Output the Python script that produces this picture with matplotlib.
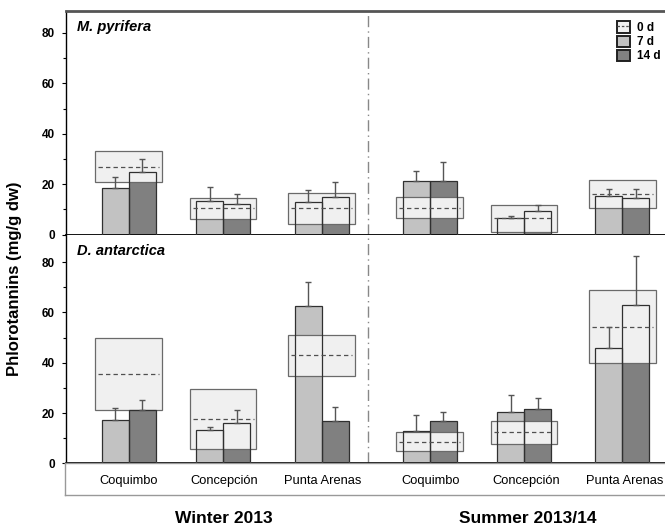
import matplotlib
matplotlib.use("Agg")
import matplotlib.pyplot as plt
from matplotlib.patches import Rectangle, Patch
from matplotlib.lines import Line2D
import numpy as np

plt.rcParams['font.family'] = ['Liberation Sans', 'DejaVu Sans']

sites = ["Coquimbo", "Concepción", "Punta Arenas", "Coquimbo", "Concepción", "Punta Arenas"]
seasons = ["Winter 2013", "Summer 2013/14"]
species = ["M. pyrifera", "D. antarctica"]

# M. pyrifera: 0 d shown as mean +/- sd box, 7 d and 14 d as bars + sd
mp_d0 = [26.9, 10.4, 10.4, 10.6, 6.4, 16.2]
mp_d0_sd = [6.1, 4.2, 6.2, 4.1, 5.4, 5.5]
mp_d7 = [18.3, 13.3, 12.8, 21.2, 6.4, 15.4]
mp_d7_sd = [4.4, 5.4, 4.9, 4.0, 0.9, 2.8]
mp_d14 = [24.8, 12.0, 15.0, 21.2, 9.3, 14.6]
mp_d14_sd = [5.0, 3.9, 5.8, 7.5, 2.4, 3.3]

# D. antarctica
da_d0 = [35.5, 17.6, 42.9, 8.6, 12.3, 54.4]
da_d0_sd = [14.3, 11.8, 8.0, 3.7, 4.6, 14.4]
da_d7 = [17.3, 13.1, 62.7, 12.9, 20.6, 45.7]
da_d7_sd = [4.9, 1.5, 9.4, 6.3, 6.6, 8.7]
da_d14 = [21.4, 15.9, 17.0, 16.9, 21.6, 62.9]
da_d14_sd = [3.8, 5.3, 5.3, 3.7, 4.3, 19.7]

xpos = np.array([0, 0.98, 2.0, 3.12, 4.1, 5.12])
bar_w = 0.28
box_w = 0.69
c7 = "#c2c2c2"
c14 = "#808080"
c0 = "#f0f0f0"
XLIM = (-0.65, 5.59)
SEP = 2.48

fig = plt.figure(figsize=(6.65, 5.3), dpi=100)
ax_top = fig.add_axes([0.0992, 0.5575, 0.905, 0.4217])
ax_bot = fig.add_axes([0.0992, 0.1258, 0.905, 0.4317])
ax_lab = fig.add_axes([0.0977, 0.066, 0.91, 0.0598])


def draw_panel(ax, d0, d0_sd, d7, d7_sd, d14, d14_sd, ymax, name):
    d0 = np.array(d0); d0_sd = np.array(d0_sd)
    x7 = xpos - bar_w / 2
    x14 = xpos + bar_w / 2
    ax.bar(x7, d7, bar_w, color=c7, edgecolor="none", zorder=2)
    ax.bar(x14, d14, bar_w, color=c14, edgecolor="none", zorder=2)
    for x, m, s in zip(xpos, d0, d0_sd):
        ax.add_patch(Rectangle((x - box_w / 2, m - s), box_w, 2 * s,
                               facecolor=c0, edgecolor="#6a6a6a", lw=0.9, zorder=3))
        ax.plot([x - box_w / 2 + 0.03, x + box_w / 2 - 0.03], [m, m],
                color="#505050", lw=0.9, ls=(0, (3.5, 2.5)), zorder=5)
    ax.bar(x7, d7, bar_w, fill=False, edgecolor="#303030", lw=0.9, zorder=4)
    ax.bar(x14, d14, bar_w, fill=False, edgecolor="#303030", lw=0.9, zorder=4)
    ax.errorbar(x7, d7, yerr=[np.zeros(len(d7)), d7_sd], fmt="none",
                ecolor="#555555", elinewidth=1.0, capsize=2, capthick=1.0, zorder=5)
    ax.errorbar(x14, d14, yerr=[np.zeros(len(d14)), d14_sd], fmt="none",
                ecolor="#555555", elinewidth=1.0, capsize=2, capthick=1.0, zorder=5)
    ax.axvline(SEP, color="#888888", lw=1.0, ls=(0, (8, 3, 1, 3)), zorder=1)
    ax.set_xlim(*XLIM)
    ax.set_ylim(0, ymax)
    ax.set_xticks([])
    ax.set_yticks([0, 20, 40, 60, 80])
    ax.set_yticks([10, 30, 50, 70], minor=True)
    ax.tick_params(axis="y", which="major", direction="out", length=3, width=0.8,
                   labelsize=8.5, pad=5)
    ax.tick_params(axis="y", which="minor", direction="out", length=2, width=0.8)
    for t in ax.get_yticklabels():
        t.set_fontweight("bold")
    ax.spines["right"].set_visible(False)
    ax.spines["top"].set_visible(False)
    ax.spines["left"].set_linewidth(1.0)
    ax.spines["bottom"].set_linewidth(1.3)
    ax.text(0.018, 0.93, name, transform=ax.transAxes, fontsize=10.5,
            fontweight="bold", fontstyle="italic", va="center", ha="left")


draw_panel(ax_top, mp_d0, mp_d0_sd, mp_d7, mp_d7_sd, mp_d14, mp_d14_sd, 88.7, species[0])
draw_panel(ax_bot, da_d0, da_d0_sd, da_d7, da_d7_sd, da_d14, da_d14_sd, 91, species[1])
ax_top.spines["top"].set_visible(True)
ax_top.spines["top"].set_linewidth(2.0)
ax_top.spines["top"].set_color("#555555")

# legend
h0 = (Patch(facecolor=c0, edgecolor="#202020", lw=1.4),
      Line2D([], [], color="#505050", ls=(0, (2, 1.5)), lw=0.9))
h7 = Patch(facecolor=c7, edgecolor="#202020", lw=1.4)
h14 = Patch(facecolor=c14, edgecolor="#202020", lw=1.4)
leg = ax_top.legend([h0, h7, h14], ["0 d", "7 d", "14 d"], loc="upper right",
                    bbox_to_anchor=(1.0, 0.985), frameon=False, handlelength=1.1,
                    handleheight=1.1, handletextpad=0.6, labelspacing=0.12,
                    borderaxespad=0.2, prop={"size": 8.5, "weight": "bold"})

# category label box
ax_lab.set_xlim(XLIM[0] - 0.01, XLIM[1])
ax_lab.set_ylim(0, 1)
ax_lab.set_xticks([])
ax_lab.set_yticks([])
for sp in ax_lab.spines.values():
    sp.set_color("#999999")
    sp.set_linewidth(1.0)
for x, s in zip(xpos, sites):
    ax_lab.text(x, 0.45, s, ha="center", va="center", fontsize=9.3)

fig.text(0.337, 0.021, seasons[0], ha="center", va="center", fontsize=12.5,
         fontweight="bold")
fig.text(0.793, 0.021, seasons[1], ha="center", va="center", fontsize=12.5,
         fontweight="bold")
fig.text(0.022, 0.474, "Phlorotannins (mg/g dw)", rotation=90, ha="center",
         va="center", fontsize=12, fontweight="bold")

fig.savefig("out.png", dpi=100)
